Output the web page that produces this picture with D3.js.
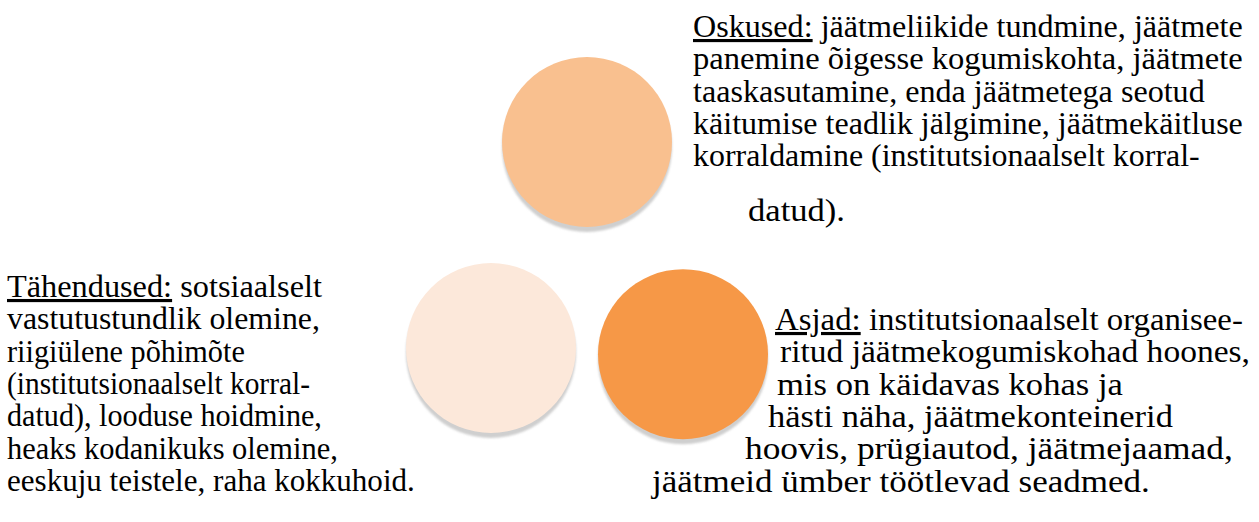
<!DOCTYPE html>
<html>
<head>
  <meta charset="utf-8">
  <script src="https://d3js.org/d3.v7.min.js"></script>
</head>
<body style="margin:0">
  <svg width="1259" height="522"></svg>

  <script>
    // the three circles
    const names = ["Oskused", "Tähendused", "Asjad"];
    const colors = ["#F9C08F", "#FCE8DA", "#F69847"];
    const cols = [1, 0, 2];
    const rows = [0, 1, 1.03];

    // text blocks, one entry per printed line
    const headings = ["Oskused:", "Tähendused:", "Asjad:"];
    const oskusedLines = [
      " jäätmeliikide tundmine, jäätmete",
      "panemine õigesse kogumiskohta, jäätmete",
      "taaskasutamine, enda jäätmetega seotud",
      "käitumise teadlik jälgimine, jäätmekäitluse",
      "korraldamine (institutsionaalselt korral-",
      "datud)."
    ];
    const oskusedStart = [693, 693, 693, 693, 693, 748];
    const oskusedEnd = [1243, 1243, 1205, 1243, 1200, 845];
    const oskusedRow = [0, 1, 2, 3, 4, 5.7];

    const tahendusedLines = [
      " sotsiaalselt",
      "vastutustundlik olemine,",
      "riigiülene põhimõte",
      "(institutsionaalselt korral-",
      "datud), looduse hoidmine,",
      "heaks kodanikuks olemine,",
      "eeskuju teistele, raha kokkuhoid."
    ];
    const tahendusedStart = [7, 7, 7, 7, 7, 7, 7];
    const tahendusedEnd = [322, 320, 245, 310, 322, 338, 415];
    const tahendusedRow = [0, 1, 2, 3, 4, 5, 6];

    const asjadLines = [
      " institutsionaalselt organisee-",
      "ritud jäätmekogumiskohad hoones,",
      "mis on käidavas kohas ja",
      "hästi näha, jäätmekonteinerid",
      "hoovis, prügiautod, jäätmejaamad,",
      "jäätmeid ümber töötlevad seadmed."
    ];
    const asjadStart = [775, 780, 777, 768, 745, 652];
    const asjadEnd = [1243, 1250, 1123, 1173, 1233, 1150];
    const asjadRow = [0, 1, 2, 3, 4, 5];

    const svg = d3.select("svg");

    const x = d3.scaleLinear().domain([0, 2]).range([491, 683]);
    const y = d3.scaleLinear().domain([0, 1]).range([142, 348]);
    const r = 85;

    const nodes = names.map((n, i) => ({ name: n, color: colors[i], col: cols[i], row: rows[i] }));

    const defs = svg.append("defs");
    defs.append("filter").attr("id", "soft")
      .append("feGaussianBlur").attr("stdDeviation", 0.8);

    const g = svg.selectAll("g.node")
      .data(nodes)
      .enter()
      .append("g")
      .attr("class", "node")
      .attr("transform", d => "translate(" + x(d.col) + "," + y(d.row) + ")");

    g.append("circle")
      .attr("r", r)
      .attr("cy", 5)
      .attr("fill", "#cfcfcf")
      .attr("filter", "url(#soft)");
    g.append("circle")
      .attr("r", r)
      .attr("fill", d => d.color);

    // text is set at 28px and scaled to fit each printed line
    const fontSize = 28;
    const sy = 31.5 / 28;
    const lineH = 32.3;

    function block(lines, start, end, rowIdx, heading, y0) {
      lines.forEach((line, i) => {
        const el = svg.append("text")
          .style("font-family", "'Liberation Serif', monospace")
          .attr("font-size", fontSize);
        if (i === 0) {
          el.append("tspan").style("text-decoration", "underline").text(heading);
          el.append("tspan").text("\u00a0" + line.trim());
        } else {
          el.text(line);
        }
        const w = el.node().getComputedTextLength();
        const sx = (end[i] - start[i]) / w;
        el.attr("transform", "translate(" + start[i] + "," + (y0 + rowIdx[i] * lineH) + ") scale(" + sx + "," + sy + ")");
      });
    }

    block(oskusedLines, oskusedStart, oskusedEnd, oskusedRow, headings[0], 37);
    block(tahendusedLines, tahendusedStart, tahendusedEnd, tahendusedRow, headings[1], 297);
    block(asjadLines, asjadStart, asjadEnd, asjadRow, headings[2], 330);
  </script>
</body>
</html>
